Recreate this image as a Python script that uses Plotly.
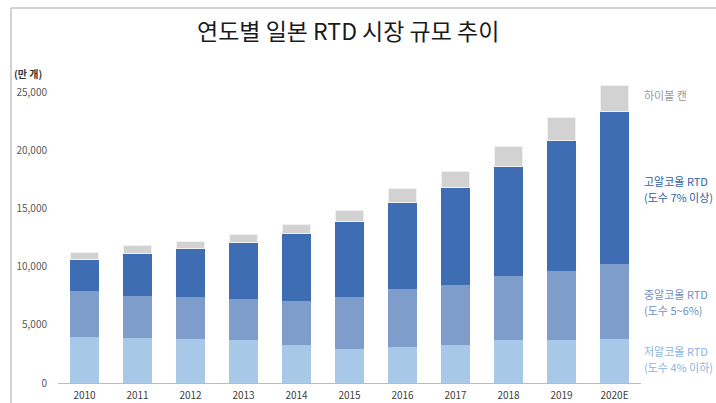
import plotly.graph_objects as go

years = ["2010", "2011", "2012", "2013", "2014", "2015", "2016", "2017", "2018", "2019", "2020E"]
low_alc = [3980, 3870, 3810, 3670, 3290, 2920, 3120, 3290, 3690, 3720, 3750]
mid_alc = [3950, 3630, 3580, 3550, 3750, 4440, 4930, 5100, 5480, 5900, 6450]
high_alc = [2700, 3610, 4150, 4890, 5820, 6500, 7500, 8390, 9450, 11200, 13110]
highball = [560, 720, 630, 660, 770, 970, 1180, 1430, 1740, 2030, 2230]
y_ticks = [0, 5000, 10000, 15000, 20000, 25000]
y_tick_text = ["0", "5,000", "10,000", "15,000", "20,000", "25,000"]

W, H = 716, 403
L, R, T, B = 58, 75, 69, 20
pw, ph = W - L - R, H - T - B

def px(x):
    return (x - L) / pw

def py(y):
    return (H - B - y) / ph

FONT = "Noto Sans CJK KR"
c_low, c_mid, c_high, c_hb = "#A8C8E8", "#7E9DCB", "#3F6DB4", "#D2D2D2"

fig = go.Figure()
fig.add_bar(x=years, y=low_alc, marker=dict(color=c_low, line=dict(width=0)), name="저알코올 RTD")
fig.add_bar(x=years, y=mid_alc, marker=dict(color=c_mid, line=dict(width=0)), name="중알코올 RTD")
fig.add_bar(x=years, y=high_alc, marker=dict(color=c_high, line=dict(width=0)), name="고알코올 RTD")
fig.add_bar(x=years, y=highball, marker=dict(color=c_hb, line=dict(width=1, color="#F0F0F0")), name="하이볼 캔")

fig.update_layout(
    barmode="stack", bargap=0.46, showlegend=False,
    width=W, height=H, margin=dict(l=L, r=R, t=T, b=B, autoexpand=False),
    paper_bgcolor="white", plot_bgcolor="white",
    font=dict(family=FONT, color="#595959", size=10),
    xaxis=dict(showgrid=False, showline=True, linecolor="#BBBBBB", linewidth=1,
               automargin=False,
               ticks="outside", ticklen=3, tickcolor="rgba(0,0,0,0)",
               tickfont=dict(size=10, color="#404040")),
    yaxis=dict(range=[0, 27000], showgrid=False, showline=False, zeroline=False,
               automargin=False,
               tickvals=y_ticks, ticktext=y_tick_text,
               ticks="outside", ticklen=8, tickcolor="rgba(0,0,0,0)",
               tickfont=dict(size=10, color="#595959")),
)

# frame lines
fig.add_shape(type="line", xref="paper", yref="paper", x0=px(11), x1=px(716), y0=py(8), y1=py(8),
              line=dict(color="#C4C4C4", width=1.5))
fig.add_shape(type="line", xref="paper", yref="paper", x0=px(11), x1=px(11), y0=py(8), y1=py(403),
              line=dict(color="#C4C4C4", width=1.5))

ann = [
    ("연도별 일본 RTD 시장 규모 추이", 348, 30, 23, "#1A1A1A", "center"),
    ("<b>(만 개)</b>", 12, 73, 10, "#333333", "left"),
    ("하이볼 캔", 642, 95, 11, "#9A9A9A", "left"),
    ("고알코올 RTD", 642, 181, 11, "#2F5DA6", "left"),
    ("(도수 7% 이상)", 642, 197, 11, "#2F5DA6", "left"),
    ("중알코올 RTD", 642, 294, 11, "#6F8FC2", "left"),
    ("(도수 5~6%)", 642, 310, 11, "#6F8FC2", "left"),
    ("저알코올 RTD", 642, 351, 11, "#8DB2DC", "left"),
    ("(도수 4% 이하)", 642, 367, 11, "#8DB2DC", "left"),
]
for text, x, y, size, color, anchor in ann:
    fig.add_annotation(text=text, xref="paper", yref="paper", x=px(x), y=py(y),
                       xanchor=anchor, yanchor="middle", showarrow=False,
                       font=dict(family=FONT, size=size, color=color))

fig.write_html("out.html", config={"displayModeBar": False},
               post_script="document.body.style.margin='0';document.body.style.overflow='hidden';")
